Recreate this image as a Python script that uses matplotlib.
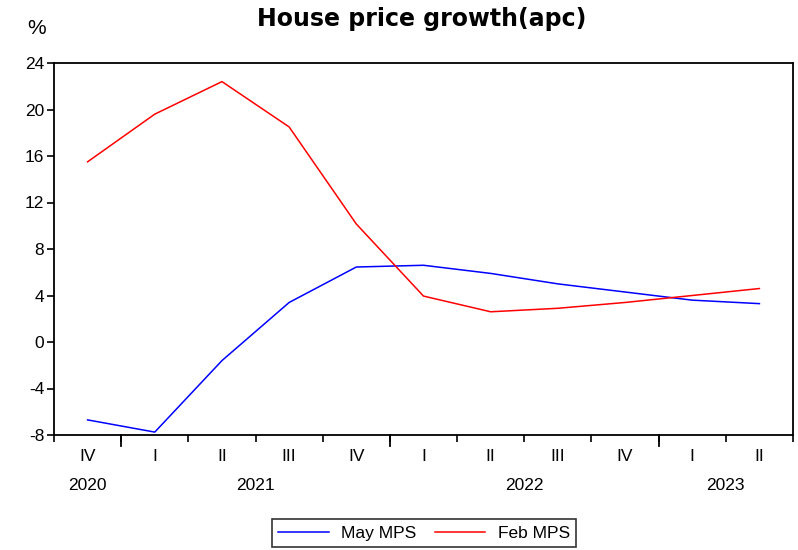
import numpy as np
import matplotlib.pyplot as plt
import matplotlib.transforms as mtransforms

plt.rcParams['font.family'] = ['Liberation Sans', 'DejaVu Sans']
plt.rcParams['axes.unicode_minus'] = False

# quarters from 2020 Q4 to 2023 Q2
quarters = ['IV', 'I', 'II', 'III', 'IV', 'I', 'II', 'III', 'IV', 'I', 'II']
years = ['2020', '2021', '2022', '2023']
year_spans = [(0, 1), (1, 5), (5, 9), (9, 11)]   # quarter index ranges for each year
may_mps = [-6.7, -7.75, -1.6, 3.4, 6.45, 6.6, 5.9, 5.0, 4.3, 3.6, 3.3]
feb_mps = [15.5, 19.6, 22.4, 18.5, 10.15, 3.95, 2.6, 2.9, 3.4, 4.0, 4.6]

fig = plt.figure(figsize=(7.98, 5.5), dpi=100)
ax = fig.add_axes([54 / 798, 115 / 550, 739 / 798, 372 / 550])

x = np.arange(len(quarters))
ax.plot(x, may_mps, color='#0000ff', lw=1.1, label='May MPS')
ax.plot(x, feb_mps, color='#ff0000', lw=1.1, label='Feb MPS')

ax.set_xlim(-0.5, len(quarters) - 0.5)
ax.set_ylim(-8, 24)
ax.set_yticks(np.arange(-8, 25, 4))
ax.tick_params(axis='y', direction='out', length=5, width=1.2, labelsize=12.5, pad=2)

# boundaries between quarters as ticks, labels in the middle
ax.set_xticks(np.arange(-0.5, len(quarters), 1))
ax.set_xticklabels([])
ax.set_xticks(x, minor=True)
ax.set_xticklabels(quarters, minor=True)
ax.tick_params(axis='x', which='major', direction='out', length=5, width=1.2)
ax.tick_params(axis='x', which='minor', length=0, labelsize=12.5, pad=10)

for s in ax.spines.values():
    s.set_linewidth(1.3)

# longer ticks at year boundaries and year labels
trans = mtransforms.blended_transform_factory(ax.transData, ax.transAxes)
for b in [0.5, 4.5, 8.5]:
    ax.plot([b, b], [0, -0.03], color='black', lw=1.3, transform=trans, clip_on=False)
for yr, (a, b) in zip(years, year_spans):
    ax.text((a + b - 1) / 2, -0.135, yr, transform=trans, ha='center', va='center', fontsize=12.5)

fig.text(422 / 798, 1 - 19 / 550, 'House price growth(apc)', ha='center', va='center',
         fontsize=17, fontweight='bold', family='DejaVu Sans')
fig.text(37 / 798, 1 - 29 / 550, '%', ha='center', va='center', fontsize=15)

leg = fig.legend(loc='center', bbox_to_anchor=(424 / 798, 1 - 533 / 550), ncol=2,
                 frameon=True, fancybox=False, edgecolor='black', fontsize=12.5,
                 handlelength=2.9, handletextpad=0.7, columnspacing=1.1, borderpad=0.35)
leg.get_frame().set_linewidth(1.2)

fig.savefig('out.png', dpi=100)
